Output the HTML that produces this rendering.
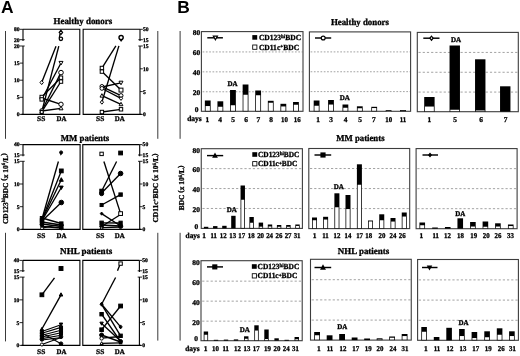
<!DOCTYPE html>
<html><head><meta charset="utf-8"><title>Figure</title>
<style>
html,body{margin:0;padding:0;background:#fff;}
body{width:520px;height:356px;overflow:hidden;font-family:"Liberation Serif",serif;}
svg{display:block;filter:grayscale(1) blur(0.3px);}
</style></head><body>
<svg width="520" height="356" viewBox="0 0 520 356" text-rendering="geometricPrecision">
<rect x="0" y="0" width="520" height="356" fill="#fff"/>
<text x="0.9" y="13.2" font-size="17.4" text-anchor="start" font-family="Liberation Sans" font-weight="bold" fill="#000" >A</text>
<text x="177.3" y="13.1" font-size="17.4" text-anchor="start" font-family="Liberation Sans" font-weight="bold" fill="#000" >B</text>
<path d="M23.0,29.3 L79.8,29.3 L79.8,114.4 L21.5,114.4" fill="none" stroke="#000" stroke-width="1.1"/>
<line x1="23.0" y1="29.3" x2="23.0" y2="40.900000000000006" stroke="#000" stroke-width="1.1" />
<line x1="23.0" y1="46.0" x2="23.0" y2="114.4" stroke="#000" stroke-width="1.1" />
<line x1="19.6" y1="46.0" x2="24.7" y2="46.0" stroke="#000" stroke-width="0.85" />
<line x1="19.6" y1="63.1" x2="23.0" y2="63.1" stroke="#000" stroke-width="0.85" />
<line x1="19.6" y1="80.2" x2="23.0" y2="80.2" stroke="#000" stroke-width="0.85" />
<line x1="19.6" y1="97.30000000000001" x2="23.0" y2="97.30000000000001" stroke="#000" stroke-width="0.85" />
<line x1="19.6" y1="114.4" x2="23.0" y2="114.4" stroke="#000" stroke-width="0.85" />
<line x1="19.6" y1="29.3" x2="23.0" y2="29.3" stroke="#000" stroke-width="0.85" />
<line x1="19.6" y1="39.7" x2="24.7" y2="39.7" stroke="#000" stroke-width="0.85" />
<text x="19.5" y="47.9" font-size="5.6" text-anchor="end" font-family="Liberation Serif" font-weight="bold" stroke="#000" stroke-width="0.3" fill="#000" >20</text>
<text x="19.5" y="65.0" font-size="5.6" text-anchor="end" font-family="Liberation Serif" font-weight="bold" stroke="#000" stroke-width="0.3" fill="#000" >15</text>
<text x="19.5" y="82.10000000000001" font-size="5.6" text-anchor="end" font-family="Liberation Serif" font-weight="bold" stroke="#000" stroke-width="0.3" fill="#000" >10</text>
<text x="19.5" y="99.20000000000002" font-size="5.6" text-anchor="end" font-family="Liberation Serif" font-weight="bold" stroke="#000" stroke-width="0.3" fill="#000" >5</text>
<text x="19.5" y="116.30000000000001" font-size="5.6" text-anchor="end" font-family="Liberation Serif" font-weight="bold" stroke="#000" stroke-width="0.3" fill="#000" >0</text>
<text x="19.5" y="31.1" font-size="5.6" text-anchor="end" font-family="Liberation Serif" font-weight="bold" stroke="#000" stroke-width="0.3" fill="#000" >80</text>
<text x="19.5" y="41.5" font-size="5.6" text-anchor="end" font-family="Liberation Serif" font-weight="bold" stroke="#000" stroke-width="0.3" fill="#000" >20</text>
<path d="M140.0,29.3 L83.15,29.3 L83.15,114.4 L141.5,114.4" fill="none" stroke="#000" stroke-width="1.1"/>
<line x1="140.0" y1="29.3" x2="140.0" y2="40.900000000000006" stroke="#000" stroke-width="1.1" />
<line x1="140.0" y1="46.0" x2="140.0" y2="114.4" stroke="#000" stroke-width="1.1" />
<line x1="138.3" y1="46.0" x2="142.8" y2="46.0" stroke="#000" stroke-width="0.85" />
<line x1="140.0" y1="68.8" x2="142.8" y2="68.8" stroke="#000" stroke-width="0.85" />
<line x1="140.0" y1="91.6" x2="142.8" y2="91.6" stroke="#000" stroke-width="0.85" />
<line x1="140.0" y1="114.4" x2="142.8" y2="114.4" stroke="#000" stroke-width="0.85" />
<line x1="140.0" y1="29.3" x2="142.8" y2="29.3" stroke="#000" stroke-width="0.85" />
<line x1="138.3" y1="39.7" x2="142.8" y2="39.7" stroke="#000" stroke-width="0.85" />
<text x="142.9" y="47.9" font-size="5.6" text-anchor="start" font-family="Liberation Serif" font-weight="bold" stroke="#000" stroke-width="0.3" fill="#000" >15</text>
<text x="142.9" y="70.7" font-size="5.6" text-anchor="start" font-family="Liberation Serif" font-weight="bold" stroke="#000" stroke-width="0.3" fill="#000" >10</text>
<text x="142.9" y="93.5" font-size="5.6" text-anchor="start" font-family="Liberation Serif" font-weight="bold" stroke="#000" stroke-width="0.3" fill="#000" >5</text>
<text x="142.9" y="116.30000000000001" font-size="5.6" text-anchor="start" font-family="Liberation Serif" font-weight="bold" stroke="#000" stroke-width="0.3" fill="#000" >0</text>
<text x="142.9" y="31.1" font-size="5.6" text-anchor="start" font-family="Liberation Serif" font-weight="bold" stroke="#000" stroke-width="0.3" fill="#000" >50</text>
<text x="142.9" y="41.5" font-size="5.6" text-anchor="start" font-family="Liberation Serif" font-weight="bold" stroke="#000" stroke-width="0.3" fill="#000" >15</text>
<text x="41.2" y="120.9" font-size="7.3" text-anchor="middle" font-family="Liberation Serif" font-weight="bold" stroke="#000" stroke-width="0.3" fill="#000" textLength="8.2" lengthAdjust="spacingAndGlyphs" >SS</text>
<text x="61.4" y="120.9" font-size="7.3" text-anchor="middle" font-family="Liberation Serif" font-weight="bold" stroke="#000" stroke-width="0.3" fill="#000" textLength="9.9" lengthAdjust="spacingAndGlyphs" >DA</text>
<text x="100.2" y="120.9" font-size="7.3" text-anchor="middle" font-family="Liberation Serif" font-weight="bold" stroke="#000" stroke-width="0.3" fill="#000" textLength="8.2" lengthAdjust="spacingAndGlyphs" >SS</text>
<text x="119.8" y="120.9" font-size="7.3" text-anchor="middle" font-family="Liberation Serif" font-weight="bold" stroke="#000" stroke-width="0.3" fill="#000" textLength="9.9" lengthAdjust="spacingAndGlyphs" >DA</text>
<text x="82.85" y="24.3" font-size="9.0" text-anchor="middle" font-family="Liberation Serif" font-weight="bold" stroke="#000" stroke-width="0.3" fill="#000" textLength="58.7" lengthAdjust="spacingAndGlyphs" >Healthy donors</text>
<path d="M23.0,144.6 L80.1,144.6 L80.1,229.4 L21.5,229.4" fill="none" stroke="#000" stroke-width="1.1"/>
<line x1="23.0" y1="144.6" x2="23.0" y2="156.2" stroke="#000" stroke-width="1.1" />
<line x1="23.0" y1="161.29999999999998" x2="23.0" y2="229.4" stroke="#000" stroke-width="1.1" />
<line x1="19.6" y1="161.29999999999998" x2="24.7" y2="161.29999999999998" stroke="#000" stroke-width="0.85" />
<line x1="19.6" y1="184.0" x2="23.0" y2="184.0" stroke="#000" stroke-width="0.85" />
<line x1="19.6" y1="206.7" x2="23.0" y2="206.7" stroke="#000" stroke-width="0.85" />
<line x1="19.6" y1="229.4" x2="23.0" y2="229.4" stroke="#000" stroke-width="0.85" />
<line x1="19.6" y1="144.6" x2="23.0" y2="144.6" stroke="#000" stroke-width="0.85" />
<line x1="19.6" y1="155.0" x2="24.7" y2="155.0" stroke="#000" stroke-width="0.85" />
<text x="19.5" y="163.2" font-size="5.6" text-anchor="end" font-family="Liberation Serif" font-weight="bold" stroke="#000" stroke-width="0.3" fill="#000" >15</text>
<text x="19.5" y="185.9" font-size="5.6" text-anchor="end" font-family="Liberation Serif" font-weight="bold" stroke="#000" stroke-width="0.3" fill="#000" >10</text>
<text x="19.5" y="208.6" font-size="5.6" text-anchor="end" font-family="Liberation Serif" font-weight="bold" stroke="#000" stroke-width="0.3" fill="#000" >5</text>
<text x="19.5" y="231.3" font-size="5.6" text-anchor="end" font-family="Liberation Serif" font-weight="bold" stroke="#000" stroke-width="0.3" fill="#000" >0</text>
<text x="19.5" y="146.4" font-size="5.6" text-anchor="end" font-family="Liberation Serif" font-weight="bold" stroke="#000" stroke-width="0.3" fill="#000" >40</text>
<text x="19.5" y="156.8" font-size="5.6" text-anchor="end" font-family="Liberation Serif" font-weight="bold" stroke="#000" stroke-width="0.3" fill="#000" >15</text>
<path d="M139.7,144.6 L82.8,144.6 L82.8,229.4 L141.2,229.4" fill="none" stroke="#000" stroke-width="1.1"/>
<line x1="139.7" y1="144.6" x2="139.7" y2="156.2" stroke="#000" stroke-width="1.1" />
<line x1="139.7" y1="161.29999999999998" x2="139.7" y2="229.4" stroke="#000" stroke-width="1.1" />
<line x1="138.0" y1="161.29999999999998" x2="142.5" y2="161.29999999999998" stroke="#000" stroke-width="0.85" />
<line x1="139.7" y1="184.0" x2="142.5" y2="184.0" stroke="#000" stroke-width="0.85" />
<line x1="139.7" y1="206.7" x2="142.5" y2="206.7" stroke="#000" stroke-width="0.85" />
<line x1="139.7" y1="229.4" x2="142.5" y2="229.4" stroke="#000" stroke-width="0.85" />
<line x1="139.7" y1="144.6" x2="142.5" y2="144.6" stroke="#000" stroke-width="0.85" />
<line x1="138.0" y1="155.0" x2="142.5" y2="155.0" stroke="#000" stroke-width="0.85" />
<text x="142.6" y="163.2" font-size="5.6" text-anchor="start" font-family="Liberation Serif" font-weight="bold" stroke="#000" stroke-width="0.3" fill="#000" >15</text>
<text x="142.6" y="185.9" font-size="5.6" text-anchor="start" font-family="Liberation Serif" font-weight="bold" stroke="#000" stroke-width="0.3" fill="#000" >10</text>
<text x="142.6" y="208.6" font-size="5.6" text-anchor="start" font-family="Liberation Serif" font-weight="bold" stroke="#000" stroke-width="0.3" fill="#000" >5</text>
<text x="142.6" y="231.3" font-size="5.6" text-anchor="start" font-family="Liberation Serif" font-weight="bold" stroke="#000" stroke-width="0.3" fill="#000" >0</text>
<text x="142.6" y="146.4" font-size="5.6" text-anchor="start" font-family="Liberation Serif" font-weight="bold" stroke="#000" stroke-width="0.3" fill="#000" >50</text>
<text x="142.6" y="156.8" font-size="5.6" text-anchor="start" font-family="Liberation Serif" font-weight="bold" stroke="#000" stroke-width="0.3" fill="#000" >15</text>
<text x="41.2" y="237.6" font-size="7.3" text-anchor="middle" font-family="Liberation Serif" font-weight="bold" stroke="#000" stroke-width="0.3" fill="#000" textLength="8.2" lengthAdjust="spacingAndGlyphs" >SS</text>
<text x="61.4" y="237.6" font-size="7.3" text-anchor="middle" font-family="Liberation Serif" font-weight="bold" stroke="#000" stroke-width="0.3" fill="#000" textLength="9.9" lengthAdjust="spacingAndGlyphs" >DA</text>
<text x="100.2" y="237.6" font-size="7.3" text-anchor="middle" font-family="Liberation Serif" font-weight="bold" stroke="#000" stroke-width="0.3" fill="#000" textLength="8.2" lengthAdjust="spacingAndGlyphs" >SS</text>
<text x="119.8" y="237.6" font-size="7.3" text-anchor="middle" font-family="Liberation Serif" font-weight="bold" stroke="#000" stroke-width="0.3" fill="#000" textLength="9.9" lengthAdjust="spacingAndGlyphs" >DA</text>
<text x="85.05" y="141.2" font-size="9.0" text-anchor="middle" font-family="Liberation Serif" font-weight="bold" stroke="#000" stroke-width="0.3" fill="#000" textLength="48.5" lengthAdjust="spacingAndGlyphs" >MM patients</text>
<path d="M22.9,260.4 L79.9,260.4 L79.9,345.4 L21.4,345.4" fill="none" stroke="#000" stroke-width="1.1"/>
<line x1="22.9" y1="260.4" x2="22.9" y2="271.99999999999994" stroke="#000" stroke-width="1.1" />
<line x1="22.9" y1="277.09999999999997" x2="22.9" y2="345.4" stroke="#000" stroke-width="1.1" />
<line x1="19.5" y1="277.09999999999997" x2="24.599999999999998" y2="277.09999999999997" stroke="#000" stroke-width="0.85" />
<line x1="19.5" y1="299.8666666666666" x2="22.9" y2="299.8666666666666" stroke="#000" stroke-width="0.85" />
<line x1="19.5" y1="322.6333333333333" x2="22.9" y2="322.6333333333333" stroke="#000" stroke-width="0.85" />
<line x1="19.5" y1="345.4" x2="22.9" y2="345.4" stroke="#000" stroke-width="0.85" />
<line x1="19.5" y1="260.4" x2="22.9" y2="260.4" stroke="#000" stroke-width="0.85" />
<line x1="19.5" y1="270.79999999999995" x2="24.599999999999998" y2="270.79999999999995" stroke="#000" stroke-width="0.85" />
<text x="19.4" y="278.99999999999994" font-size="5.6" text-anchor="end" font-family="Liberation Serif" font-weight="bold" stroke="#000" stroke-width="0.3" fill="#000" >15</text>
<text x="19.4" y="301.7666666666666" font-size="5.6" text-anchor="end" font-family="Liberation Serif" font-weight="bold" stroke="#000" stroke-width="0.3" fill="#000" >10</text>
<text x="19.4" y="324.5333333333333" font-size="5.6" text-anchor="end" font-family="Liberation Serif" font-weight="bold" stroke="#000" stroke-width="0.3" fill="#000" >5</text>
<text x="19.4" y="347.29999999999995" font-size="5.6" text-anchor="end" font-family="Liberation Serif" font-weight="bold" stroke="#000" stroke-width="0.3" fill="#000" >0</text>
<text x="19.4" y="262.2" font-size="5.6" text-anchor="end" font-family="Liberation Serif" font-weight="bold" stroke="#000" stroke-width="0.3" fill="#000" >40</text>
<text x="19.4" y="272.59999999999997" font-size="5.6" text-anchor="end" font-family="Liberation Serif" font-weight="bold" stroke="#000" stroke-width="0.3" fill="#000" >15</text>
<path d="M139.4,260.4 L82.8,260.4 L82.8,345.4 L140.9,345.4" fill="none" stroke="#000" stroke-width="1.1"/>
<line x1="139.4" y1="260.4" x2="139.4" y2="271.99999999999994" stroke="#000" stroke-width="1.1" />
<line x1="139.4" y1="277.09999999999997" x2="139.4" y2="345.4" stroke="#000" stroke-width="1.1" />
<line x1="137.70000000000002" y1="277.09999999999997" x2="142.20000000000002" y2="277.09999999999997" stroke="#000" stroke-width="0.85" />
<line x1="139.4" y1="299.8666666666666" x2="142.20000000000002" y2="299.8666666666666" stroke="#000" stroke-width="0.85" />
<line x1="139.4" y1="322.6333333333333" x2="142.20000000000002" y2="322.6333333333333" stroke="#000" stroke-width="0.85" />
<line x1="139.4" y1="345.4" x2="142.20000000000002" y2="345.4" stroke="#000" stroke-width="0.85" />
<line x1="139.4" y1="260.4" x2="142.20000000000002" y2="260.4" stroke="#000" stroke-width="0.85" />
<line x1="137.70000000000002" y1="270.79999999999995" x2="142.20000000000002" y2="270.79999999999995" stroke="#000" stroke-width="0.85" />
<text x="142.3" y="278.99999999999994" font-size="5.6" text-anchor="start" font-family="Liberation Serif" font-weight="bold" stroke="#000" stroke-width="0.3" fill="#000" >15</text>
<text x="142.3" y="301.7666666666666" font-size="5.6" text-anchor="start" font-family="Liberation Serif" font-weight="bold" stroke="#000" stroke-width="0.3" fill="#000" >10</text>
<text x="142.3" y="324.5333333333333" font-size="5.6" text-anchor="start" font-family="Liberation Serif" font-weight="bold" stroke="#000" stroke-width="0.3" fill="#000" >5</text>
<text x="142.3" y="347.29999999999995" font-size="5.6" text-anchor="start" font-family="Liberation Serif" font-weight="bold" stroke="#000" stroke-width="0.3" fill="#000" >0</text>
<text x="142.3" y="262.2" font-size="5.6" text-anchor="start" font-family="Liberation Serif" font-weight="bold" stroke="#000" stroke-width="0.3" fill="#000" >50</text>
<text x="142.3" y="272.59999999999997" font-size="5.6" text-anchor="start" font-family="Liberation Serif" font-weight="bold" stroke="#000" stroke-width="0.3" fill="#000" >15</text>
<text x="41.2" y="353.6" font-size="7.3" text-anchor="middle" font-family="Liberation Serif" font-weight="bold" stroke="#000" stroke-width="0.3" fill="#000" textLength="8.2" lengthAdjust="spacingAndGlyphs" >SS</text>
<text x="61.4" y="353.6" font-size="7.3" text-anchor="middle" font-family="Liberation Serif" font-weight="bold" stroke="#000" stroke-width="0.3" fill="#000" textLength="9.9" lengthAdjust="spacingAndGlyphs" >DA</text>
<text x="100.2" y="353.6" font-size="7.3" text-anchor="middle" font-family="Liberation Serif" font-weight="bold" stroke="#000" stroke-width="0.3" fill="#000" textLength="8.2" lengthAdjust="spacingAndGlyphs" >SS</text>
<text x="119.8" y="353.6" font-size="7.3" text-anchor="middle" font-family="Liberation Serif" font-weight="bold" stroke="#000" stroke-width="0.3" fill="#000" textLength="9.9" lengthAdjust="spacingAndGlyphs" >DA</text>
<text x="86.15" y="253.8" font-size="9.0" text-anchor="middle" font-family="Liberation Serif" font-weight="bold" stroke="#000" stroke-width="0.3" fill="#000" textLength="52.1" lengthAdjust="spacingAndGlyphs" >NHL patients</text>
<line x1="41.7" y1="82.5" x2="56.0" y2="46.2" stroke="#000" stroke-width="1.35" />
<line x1="41.7" y1="112" x2="58.8" y2="46.2" stroke="#000" stroke-width="1.35" />
<line x1="41.7" y1="99.5" x2="61.0" y2="63" stroke="#000" stroke-width="1.35" />
<line x1="41.7" y1="111" x2="61.0" y2="72.6" stroke="#000" stroke-width="1.35" />
<line x1="41.7" y1="97" x2="61.0" y2="77.7" stroke="#000" stroke-width="1.35" />
<line x1="41.7" y1="111.8" x2="61.0" y2="81.5" stroke="#000" stroke-width="1.35" />
<line x1="41.7" y1="98" x2="61.0" y2="104.3" stroke="#000" stroke-width="1.35" />
<line x1="41.7" y1="111" x2="61.0" y2="108.3" stroke="#000" stroke-width="1.35" />
<line x1="59.3" y1="38.0" x2="60.0" y2="34.0" stroke="#000" stroke-width="1.35" />
<path d="M40.02,82.5 L41.7,80.4 L43.38,82.5 L41.7,84.6 Z" fill="#fff" stroke="#000" stroke-width="1.0"/>
<rect x="40.0" y="95.3" width="3.4" height="3.4" fill="#fff" stroke="#000" stroke-width="1.0"/>
<rect x="40.0" y="97.7" width="3.4" height="3.4" fill="#fff" stroke="#000" stroke-width="1.0"/>
<circle cx="41.7" cy="110.4" r="1.8" fill="#fff" stroke="#000" stroke-width="1.0"/>
<path d="M39.800000000000004,113.11999999999999 L43.6,113.11999999999999 L41.7,109.69999999999999 Z" fill="#fff" stroke="#000" stroke-width="1.0"/>
<rect x="40.255" y="110.555" width="2.8899999999999997" height="2.8899999999999997" fill="#fff" stroke="#000" stroke-width="1.0"/>
<path d="M59.22,32.4 L60.9,30.299999999999997 L62.58,32.4 L60.9,34.5 Z" fill="#fff" stroke="#000" stroke-width="1.2"/>
<circle cx="60.9" cy="38.8" r="1.7" fill="#fff" stroke="#000" stroke-width="1.3"/>
<path d="M59.0,61.4 L63.0,61.4 L61.0,65.0 Z" fill="#fff" stroke="#000" stroke-width="1.0"/>
<circle cx="61.0" cy="72.6" r="2.3" fill="#fff" stroke="#000" stroke-width="1.0"/>
<rect x="59.3" y="76.0" width="3.4" height="3.4" fill="#fff" stroke="#000" stroke-width="1.0"/>
<rect x="59.3" y="79.89999999999999" width="3.4" height="3.4" fill="#fff" stroke="#000" stroke-width="1.0"/>
<circle cx="61.0" cy="104.3" r="2.2" fill="#fff" stroke="#000" stroke-width="1.0"/>
<path d="M59.0,109.8 L63.0,109.8 L61.0,106.2 Z" fill="#fff" stroke="#000" stroke-width="1.0"/>
<line x1="101.9" y1="68.2" x2="115.9" y2="45.9" stroke="#000" stroke-width="1.35" />
<line x1="101.9" y1="102" x2="118.9" y2="45.9" stroke="#000" stroke-width="1.35" />
<line x1="101.9" y1="71.5" x2="121.0" y2="90.1" stroke="#000" stroke-width="1.35" />
<line x1="101.9" y1="87" x2="121.0" y2="82.8" stroke="#000" stroke-width="1.35" />
<line x1="101.9" y1="86.6" x2="121.0" y2="95.6" stroke="#000" stroke-width="1.35" />
<line x1="101.9" y1="88.5" x2="121.0" y2="98.3" stroke="#000" stroke-width="1.35" />
<line x1="101.9" y1="95.6" x2="121.0" y2="104.4" stroke="#000" stroke-width="1.35" />
<line x1="101.9" y1="112" x2="121.0" y2="109.3" stroke="#000" stroke-width="1.35" />
<rect x="100.2" y="66.3" width="3.4" height="3.4" fill="#fff" stroke="#000" stroke-width="1.0"/>
<rect x="100.2" y="69.89999999999999" width="3.4" height="3.4" fill="#fff" stroke="#000" stroke-width="1.0"/>
<circle cx="101.9" cy="86.4" r="1.9" fill="#fff" stroke="#000" stroke-width="1.0"/>
<circle cx="101.9" cy="88.4" r="1.9" fill="#fff" stroke="#000" stroke-width="1.0"/>
<path d="M100.0,97.11999999999999 L103.80000000000001,97.11999999999999 L101.9,93.69999999999999 Z" fill="#fff" stroke="#000" stroke-width="1.0"/>
<path d="M100.30000000000001,102.2 L101.9,100.2 L103.5,102.2 L101.9,104.2 Z" fill="#fff" stroke="#000" stroke-width="1.0"/>
<rect x="100.2" y="110.3" width="3.4" height="3.4" fill="#fff" stroke="#000" stroke-width="1.0"/>
<circle cx="121.1" cy="37.6" r="2.1" fill="#fff" stroke="#000" stroke-width="1.4"/>
<path d="M119.2,39.0 L121.1,42.0 L123.0,39.0 Z" fill="#000"/>
<path d="M119.0,81.2 L123.0,81.2 L121.0,84.8 Z" fill="#fff" stroke="#000" stroke-width="1.0"/>
<rect x="119.045" y="88.145" width="3.9099999999999997" height="3.9099999999999997" fill="#fff" stroke="#000" stroke-width="1.0"/>
<circle cx="121.0" cy="95.6" r="2.0" fill="#fff" stroke="#000" stroke-width="1.0"/>
<path d="M119.4,98.4 L121.0,96.4 L122.6,98.4 L121.0,100.4 Z" fill="#fff" stroke="#000" stroke-width="1.0"/>
<path d="M119.1,105.72 L122.9,105.72 L121.0,102.3 Z" fill="#fff" stroke="#000" stroke-width="1.0"/>
<rect x="119.3" y="107.6" width="3.4" height="3.4" fill="#fff" stroke="#000" stroke-width="1.0"/>
<line x1="42.0" y1="219" x2="58.4" y2="161.5" stroke="#000" stroke-width="1.35" />
<line x1="42.0" y1="219.5" x2="61.3" y2="170.9" stroke="#000" stroke-width="1.35" />
<line x1="42.0" y1="220" x2="61.3" y2="179.7" stroke="#000" stroke-width="1.35" />
<line x1="42.0" y1="220.5" x2="61.3" y2="187.5" stroke="#000" stroke-width="1.35" />
<line x1="42.0" y1="221" x2="61.3" y2="202.5" stroke="#000" stroke-width="1.35" />
<line x1="42.0" y1="218" x2="61.3" y2="223.5" stroke="#000" stroke-width="1.35" />
<line x1="42.0" y1="222" x2="61.3" y2="225" stroke="#000" stroke-width="1.35" />
<line x1="42.0" y1="224" x2="61.3" y2="226.5" stroke="#000" stroke-width="1.35" />
<line x1="42.0" y1="226.5" x2="61.3" y2="228" stroke="#000" stroke-width="1.35" />
<line x1="42.0" y1="228" x2="61.3" y2="224.2" stroke="#000" stroke-width="1.35" />
<circle cx="61.1" cy="152.4" r="1.5" fill="#000" stroke="#000" stroke-width="1.0"/>
<path d="M59.8,153.3 L60.7,155.8 L62.2,153.5 Z" fill="#000"/>
<rect x="59.43" y="169.03" width="3.74" height="3.74" fill="#000" stroke="#000" stroke-width="1.0"/>
<path d="M59.3,181.29999999999998 L63.3,181.29999999999998 L61.3,177.7 Z" fill="#000" stroke="#000" stroke-width="1.0"/>
<path d="M59.4,186.07999999999998 L63.199999999999996,186.07999999999998 L61.3,189.5 Z" fill="#000" stroke="#000" stroke-width="1.0"/>
<circle cx="61.3" cy="202.5" r="2.3" fill="#000" stroke="#000" stroke-width="1.0"/>
<rect x="40.3" y="216.5" width="3.4" height="3.4" fill="#000" stroke="#000" stroke-width="1.0"/>
<rect x="40.3" y="218.8" width="3.4" height="3.4" fill="#000" stroke="#000" stroke-width="1.0"/>
<rect x="40.3" y="220.8" width="3.4" height="3.4" fill="#000" stroke="#000" stroke-width="1.0"/>
<circle cx="42.0" cy="224.6" r="1.9" fill="#000" stroke="#000" stroke-width="1.0"/>
<path d="M40.56,226.8 L42.0,225.0 L43.44,226.8 L42.0,228.60000000000002 Z" fill="#000" stroke="#000" stroke-width="1.0"/>
<circle cx="42.0" cy="228.3" r="1.4" fill="#fff" stroke="#000" stroke-width="1.0"/>
<rect x="59.599999999999994" y="221.9" width="3.4" height="3.4" fill="#000" stroke="#000" stroke-width="1.0"/>
<rect x="59.599999999999994" y="225.10000000000002" width="3.4" height="3.4" fill="#000" stroke="#000" stroke-width="1.0"/>
<circle cx="61.3" cy="225.2" r="1.9" fill="#000" stroke="#000" stroke-width="1.0"/>
<circle cx="61.3" cy="228.2" r="1.6" fill="#000" stroke="#000" stroke-width="1.0"/>
<line x1="103.9" y1="161.5" x2="120.6" y2="213.6" stroke="#000" stroke-width="1.35" />
<line x1="101.6" y1="191.3" x2="116.6" y2="161.5" stroke="#000" stroke-width="1.35" />
<line x1="101.6" y1="193" x2="120.6" y2="173.5" stroke="#000" stroke-width="1.35" />
<line x1="101.6" y1="205" x2="120.6" y2="194.6" stroke="#000" stroke-width="1.35" />
<line x1="101.6" y1="213.6" x2="120.6" y2="226" stroke="#000" stroke-width="1.35" />
<line x1="101.6" y1="222.8" x2="120.6" y2="223" stroke="#000" stroke-width="1.35" />
<line x1="101.6" y1="226.5" x2="120.6" y2="214.5" stroke="#000" stroke-width="1.35" />
<line x1="101.6" y1="227.6" x2="120.6" y2="227" stroke="#000" stroke-width="1.35" />
<line x1="101.6" y1="225" x2="120.6" y2="226" stroke="#000" stroke-width="1.35" />
<rect x="99.89999999999999" y="152.20000000000002" width="3.4" height="3.4" fill="#fff" stroke="#000" stroke-width="1.0"/>
<rect x="118.72999999999999" y="151.13" width="3.74" height="3.74" fill="#000" stroke="#000" stroke-width="1.0"/>
<rect x="99.815" y="189.215" width="3.57" height="3.57" fill="#000" stroke="#000" stroke-width="1.0"/>
<circle cx="101.6" cy="193.6" r="2.1" fill="#000" stroke="#000" stroke-width="1.0"/>
<rect x="100.07" y="203.47" width="3.06" height="3.06" fill="#000" stroke="#000" stroke-width="1.0"/>
<path d="M100.32,213.6 L101.6,212.0 L102.88,213.6 L101.6,215.2 Z" fill="#000" stroke="#000" stroke-width="1.0"/>
<rect x="99.89999999999999" y="221.10000000000002" width="3.4" height="3.4" fill="#000" stroke="#000" stroke-width="1.0"/>
<circle cx="101.6" cy="226.2" r="1.8" fill="#000" stroke="#000" stroke-width="1.0"/>
<path d="M100.1,229.0 L103.1,229.0 L101.6,226.3 Z" fill="#fff" stroke="#000" stroke-width="1.0"/>
<circle cx="120.6" cy="173.5" r="2.3" fill="#000" stroke="#000" stroke-width="1.0"/>
<rect x="118.89999999999999" y="192.9" width="3.4" height="3.4" fill="#000" stroke="#000" stroke-width="1.0"/>
<rect x="118.72999999999999" y="211.73" width="3.74" height="3.74" fill="#fff" stroke="#000" stroke-width="1.0"/>
<rect x="118.985" y="221.185" width="3.23" height="3.23" fill="#000" stroke="#000" stroke-width="1.0"/>
<circle cx="120.6" cy="226.2" r="2.2" fill="#000" stroke="#000" stroke-width="1.0"/>
<line x1="41.9" y1="294.8" x2="54.5" y2="277.8" stroke="#000" stroke-width="1.35" />
<line x1="41.9" y1="329" x2="61.0" y2="294.8" stroke="#000" stroke-width="1.35" />
<line x1="41.9" y1="331.5" x2="61.0" y2="324.8" stroke="#000" stroke-width="1.1" />
<line x1="41.9" y1="333.3" x2="61.0" y2="327.4" stroke="#000" stroke-width="1.1" />
<line x1="41.9" y1="335.2" x2="61.0" y2="330.2" stroke="#000" stroke-width="1.1" />
<line x1="41.9" y1="337" x2="61.0" y2="332.8" stroke="#000" stroke-width="1.1" />
<line x1="41.9" y1="338.6" x2="61.0" y2="335.2" stroke="#000" stroke-width="1.1" />
<line x1="41.9" y1="340" x2="61.0" y2="337.6" stroke="#000" stroke-width="1.1" />
<line x1="41.9" y1="344.5" x2="61.0" y2="337.4" stroke="#000" stroke-width="1.1" />
<line x1="41.9" y1="333" x2="61.0" y2="343.7" stroke="#000" stroke-width="1.1" />
<rect x="59.045" y="266.545" width="3.9099999999999997" height="3.9099999999999997" fill="#000" stroke="#000" stroke-width="1.0"/>
<rect x="40.03" y="292.93" width="3.74" height="3.74" fill="#000" stroke="#000" stroke-width="1.0"/>
<path d="M59.2,296.04 L62.8,296.04 L61.0,292.8 Z" fill="#000" stroke="#000" stroke-width="1.0"/>
<path d="M40.3,330.28 L43.5,330.28 L41.9,327.4 Z" fill="#000" stroke="#000" stroke-width="1.0"/>
<rect x="40.37" y="330.47" width="3.06" height="3.06" fill="#000" stroke="#000" stroke-width="1.0"/>
<rect x="40.37" y="333.07000000000005" width="3.06" height="3.06" fill="#000" stroke="#000" stroke-width="1.0"/>
<rect x="40.37" y="335.47" width="3.06" height="3.06" fill="#000" stroke="#000" stroke-width="1.0"/>
<circle cx="41.9" cy="339.4" r="1.8" fill="#000" stroke="#000" stroke-width="1.0"/>
<circle cx="41.9" cy="344.5" r="1.5" fill="#fff" stroke="#000" stroke-width="1.0"/>
<path d="M59.3,323.03999999999996 L62.7,323.03999999999996 L61.0,326.09999999999997 Z" fill="#000" stroke="#000" stroke-width="1.0"/>
<rect x="59.47" y="326.07000000000005" width="3.06" height="3.06" fill="#000" stroke="#000" stroke-width="1.0"/>
<rect x="59.47" y="329.07000000000005" width="3.06" height="3.06" fill="#000" stroke="#000" stroke-width="1.0"/>
<rect x="59.47" y="332.07000000000005" width="3.06" height="3.06" fill="#000" stroke="#000" stroke-width="1.0"/>
<circle cx="61.0" cy="336.8" r="1.8" fill="#000" stroke="#000" stroke-width="1.0"/>
<circle cx="61.0" cy="343.7" r="1.8" fill="#000" stroke="#000" stroke-width="1.0"/>
<line x1="101.6" y1="304.2" x2="115.6" y2="277.5" stroke="#000" stroke-width="1.35" />
<line x1="117.5" y1="270.8" x2="119.9" y2="264.8" stroke="#000" stroke-width="1.35" />
<line x1="101.6" y1="304.4" x2="120.6" y2="335.8" stroke="#000" stroke-width="1.35" />
<line x1="101.6" y1="304.2" x2="120.6" y2="326.9" stroke="#000" stroke-width="1.35" />
<line x1="101.6" y1="314.2" x2="120.6" y2="341.5" stroke="#000" stroke-width="1.35" />
<line x1="101.6" y1="329.7" x2="120.6" y2="306" stroke="#000" stroke-width="1.35" />
<line x1="101.6" y1="323.5" x2="120.6" y2="341" stroke="#000" stroke-width="1.35" />
<line x1="101.6" y1="335" x2="120.6" y2="342" stroke="#000" stroke-width="1.35" />
<line x1="101.6" y1="338.2" x2="120.6" y2="336.5" stroke="#000" stroke-width="1.35" />
<line x1="101.6" y1="343.3" x2="120.6" y2="342.8" stroke="#000" stroke-width="1.35" />
<rect x="118.89999999999999" y="261.90000000000003" width="3.4" height="3.4" fill="#fff" stroke="#000" stroke-width="1.0"/>
<path d="M100.0,304.2 L101.6,302.2 L103.19999999999999,304.2 L101.6,306.2 Z" fill="#000" stroke="#000" stroke-width="1.0"/>
<rect x="99.89999999999999" y="312.5" width="3.4" height="3.4" fill="#000" stroke="#000" stroke-width="1.0"/>
<path d="M99.89999999999999,322.14 L103.3,322.14 L101.6,325.2 Z" fill="#000" stroke="#000" stroke-width="1.0"/>
<rect x="99.815" y="327.91499999999996" width="3.57" height="3.57" fill="#000" stroke="#000" stroke-width="1.0"/>
<circle cx="101.6" cy="335" r="2.0" fill="#000" stroke="#000" stroke-width="1.0"/>
<circle cx="101.6" cy="338.4" r="1.7" fill="#fff" stroke="#000" stroke-width="1.0"/>
<path d="M100.0,344.58 L103.19999999999999,344.58 L101.6,341.7 Z" fill="#fff" stroke="#000" stroke-width="1.0"/>
<rect x="118.72999999999999" y="304.13" width="3.74" height="3.74" fill="#000" stroke="#000" stroke-width="1.0"/>
<path d="M119.0,326.9 L120.6,324.9 L122.19999999999999,326.9 L120.6,328.9 Z" fill="#000" stroke="#000" stroke-width="1.0"/>
<rect x="118.89999999999999" y="334.1" width="3.4" height="3.4" fill="#000" stroke="#000" stroke-width="1.0"/>
<circle cx="120.6" cy="341.4" r="1.9" fill="#000" stroke="#000" stroke-width="1.0"/>
<rect x="119.32499999999999" y="341.32500000000005" width="2.55" height="2.55" fill="#000" stroke="#000" stroke-width="1.0"/>
<line x1="5.5" y1="31" x2="5.5" y2="138.8" stroke="#3a3a3a" stroke-width="1" />
<line x1="5.5" y1="232.8" x2="5.5" y2="341.4" stroke="#3a3a3a" stroke-width="1" />
<line x1="157.8" y1="31" x2="157.8" y2="138.8" stroke="#3a3a3a" stroke-width="1" />
<line x1="157.8" y1="232.8" x2="157.8" y2="340.6" stroke="#3a3a3a" stroke-width="1" />
<line x1="180.1" y1="31" x2="180.1" y2="138.8" stroke="#3a3a3a" stroke-width="1" />
<line x1="180.1" y1="232.8" x2="180.1" y2="340.6" stroke="#3a3a3a" stroke-width="1" />
<text transform="translate(7.6,188.7) rotate(-90)" font-size="7.5" text-anchor="middle" font-family="Liberation Serif" font-weight="bold" stroke="#000" stroke-width="0.3" textLength="70.6" lengthAdjust="spacingAndGlyphs"><tspan>CD123</tspan><tspan font-size="4.95" dy="-2.4">hi</tspan><tspan dy="2.4" font-size="0.1"> </tspan><tspan>BDC </tspan><tspan dy="-1.5">(</tspan><tspan dy="1.5" font-size="0.1"> </tspan><tspan>x 10</tspan><tspan font-size="4.95" dy="-2.4">6</tspan><tspan dy="2.4" font-size="0.1"> </tspan><tspan>/L</tspan><tspan dy="-1.5">)</tspan></text>
<text transform="translate(158.0,188.0) rotate(-90)" font-size="7.5" text-anchor="middle" font-family="Liberation Serif" font-weight="bold" stroke="#000" stroke-width="0.3" textLength="69" lengthAdjust="spacingAndGlyphs"><tspan>CD11c</tspan><tspan font-size="4.95" dy="-2.4">+</tspan><tspan dy="2.4" font-size="0.1"> </tspan><tspan>BDC </tspan><tspan dy="-1.5">(</tspan><tspan dy="1.5" font-size="0.1"> </tspan><tspan>x 10</tspan><tspan font-size="4.95" dy="-2.4">6</tspan><tspan dy="2.4" font-size="0.1"> </tspan><tspan>/L</tspan><tspan dy="-1.5">)</tspan></text>
<text transform="translate(184.4,187.9) rotate(-90)" font-size="7.5" text-anchor="middle" font-family="Liberation Serif" font-weight="bold" stroke="#000" stroke-width="0.3" textLength="44.8" lengthAdjust="spacingAndGlyphs"><tspan>BDC </tspan><tspan dy="-1.5">(</tspan><tspan dy="1.5" font-size="0.1"> </tspan><tspan>x 10</tspan><tspan font-size="4.95" dy="-2.4">6</tspan><tspan dy="2.4" font-size="0.1"> </tspan><tspan>/L</tspan><tspan dy="-1.5">)</tspan></text>
<line x1="202.6" y1="51.925" x2="302.5" y2="51.925" stroke="#9e9e9e" stroke-width="0.95" stroke-dasharray="1.7 1.6"/>
<line x1="202.6" y1="71.85" x2="302.5" y2="71.85" stroke="#9e9e9e" stroke-width="0.95" stroke-dasharray="1.7 1.6"/>
<line x1="202.6" y1="91.775" x2="302.5" y2="91.775" stroke="#9e9e9e" stroke-width="0.95" stroke-dasharray="1.7 1.6"/>
<rect x="201.4" y="31.6" width="101.6" height="79.69999999999999" fill="none" stroke="#3c3c3c" stroke-width="1.1"/>
<text transform="translate(200.20000000000002,35.4) scale(1.04,1)" font-size="7.2" text-anchor="end" font-family="Liberation Serif" font-weight="bold" stroke="#000" stroke-width="0.3" fill="#000" >80</text>
<text transform="translate(200.20000000000002,55.324999999999996) scale(1.04,1)" font-size="7.2" text-anchor="end" font-family="Liberation Serif" font-weight="bold" stroke="#000" stroke-width="0.3" fill="#000" >60</text>
<text transform="translate(200.20000000000002,75.24999999999999) scale(1.04,1)" font-size="7.2" text-anchor="end" font-family="Liberation Serif" font-weight="bold" stroke="#000" stroke-width="0.3" fill="#000" >40</text>
<text transform="translate(200.20000000000002,95.175) scale(1.04,1)" font-size="7.2" text-anchor="end" font-family="Liberation Serif" font-weight="bold" stroke="#000" stroke-width="0.3" fill="#000" >20</text>
<text transform="translate(198.5,111.79999999999998) scale(1.04,1)" font-size="7.2" text-anchor="end" font-family="Liberation Serif" font-weight="bold" stroke="#000" stroke-width="0.3" fill="#000" >0</text>
<line x1="310.59999999999997" y1="51.9" x2="410.1" y2="51.9" stroke="#9e9e9e" stroke-width="0.95" stroke-dasharray="1.7 1.6"/>
<line x1="310.59999999999997" y1="71.75" x2="410.1" y2="71.75" stroke="#9e9e9e" stroke-width="0.95" stroke-dasharray="1.7 1.6"/>
<line x1="310.59999999999997" y1="91.60000000000001" x2="410.1" y2="91.60000000000001" stroke="#9e9e9e" stroke-width="0.95" stroke-dasharray="1.7 1.6"/>
<rect x="309.4" y="31.9" width="101.20000000000005" height="79.4" fill="none" stroke="#3c3c3c" stroke-width="1.1"/>
<line x1="418.5" y1="52.425000000000004" x2="517.8" y2="52.425000000000004" stroke="#9e9e9e" stroke-width="0.95" stroke-dasharray="2.2 2.0"/>
<line x1="418.5" y1="72.25000000000001" x2="517.8" y2="72.25000000000001" stroke="#9e9e9e" stroke-width="0.95" stroke-dasharray="2.2 2.0"/>
<line x1="418.5" y1="92.075" x2="517.8" y2="92.075" stroke="#9e9e9e" stroke-width="0.95" stroke-dasharray="2.2 2.0"/>
<rect x="417.3" y="32.4" width="100.99999999999994" height="79.30000000000001" fill="none" stroke="#3c3c3c" stroke-width="1.1"/>
<rect x="252.3" y="35.1" width="4.9" height="4.6" fill="#000"/>
<rect x="252.7" y="45.0" width="4.2" height="4.3" fill="#fff" stroke="#000" stroke-width="0.85"/>
<text transform="translate(258.9,40.2) scale(0.965,1)" font-size="7.8" font-family="Liberation Serif" font-weight="bold" stroke="#000" stroke-width="0.3">CD123<tspan font-size="5.2" dy="-1.9">hi</tspan><tspan dy="1.9">BDC</tspan></text>
<text transform="translate(258.9,49.6) scale(0.965,1)" font-size="7.8" font-family="Liberation Serif" font-weight="bold" stroke="#000" stroke-width="0.3">CD11c<tspan font-size="5.4" dy="-1.7">+</tspan><tspan dy="1.7">BDC</tspan></text>
<line x1="202.45" y1="168.625" x2="301.9" y2="168.625" stroke="#9e9e9e" stroke-width="0.95" stroke-dasharray="2.2 2.0"/>
<line x1="202.45" y1="188.55" x2="301.9" y2="188.55" stroke="#9e9e9e" stroke-width="0.95" stroke-dasharray="2.2 2.0"/>
<line x1="202.45" y1="208.475" x2="301.9" y2="208.475" stroke="#9e9e9e" stroke-width="0.95" stroke-dasharray="2.2 2.0"/>
<rect x="201.25" y="148.7" width="101.14999999999998" height="79.70000000000002" fill="none" stroke="#3c3c3c" stroke-width="1.1"/>
<text transform="translate(200.05,152.5) scale(1.04,1)" font-size="7.2" text-anchor="end" font-family="Liberation Serif" font-weight="bold" stroke="#000" stroke-width="0.3" fill="#000" >80</text>
<text transform="translate(200.05,172.425) scale(1.04,1)" font-size="7.2" text-anchor="end" font-family="Liberation Serif" font-weight="bold" stroke="#000" stroke-width="0.3" fill="#000" >60</text>
<text transform="translate(200.05,192.35000000000002) scale(1.04,1)" font-size="7.2" text-anchor="end" font-family="Liberation Serif" font-weight="bold" stroke="#000" stroke-width="0.3" fill="#000" >40</text>
<text transform="translate(200.05,212.275) scale(1.04,1)" font-size="7.2" text-anchor="end" font-family="Liberation Serif" font-weight="bold" stroke="#000" stroke-width="0.3" fill="#000" >20</text>
<text transform="translate(198.35,228.9) scale(1.04,1)" font-size="7.2" text-anchor="end" font-family="Liberation Serif" font-weight="bold" stroke="#000" stroke-width="0.3" fill="#000" >0</text>
<line x1="310.0" y1="168.525" x2="409.2" y2="168.525" stroke="#9e9e9e" stroke-width="0.95" stroke-dasharray="2.2 2.0"/>
<line x1="310.0" y1="188.55" x2="409.2" y2="188.55" stroke="#9e9e9e" stroke-width="0.95" stroke-dasharray="2.2 2.0"/>
<line x1="310.0" y1="208.575" x2="409.2" y2="208.575" stroke="#9e9e9e" stroke-width="0.95" stroke-dasharray="2.2 2.0"/>
<rect x="308.8" y="148.5" width="100.89999999999998" height="80.1" fill="none" stroke="#3c3c3c" stroke-width="1.1"/>
<line x1="417.3" y1="168.625" x2="516.6" y2="168.625" stroke="#9e9e9e" stroke-width="0.95" stroke-dasharray="2.2 2.0"/>
<line x1="417.3" y1="188.64999999999998" x2="516.6" y2="188.64999999999998" stroke="#9e9e9e" stroke-width="0.95" stroke-dasharray="2.2 2.0"/>
<line x1="417.3" y1="208.67499999999998" x2="516.6" y2="208.67499999999998" stroke="#9e9e9e" stroke-width="0.95" stroke-dasharray="2.2 2.0"/>
<rect x="416.1" y="148.6" width="101.0" height="80.1" fill="none" stroke="#3c3c3c" stroke-width="1.1"/>
<rect x="252.3" y="152.2" width="4.9" height="4.6" fill="#000"/>
<rect x="252.7" y="161.6" width="4.2" height="4.3" fill="#fff" stroke="#000" stroke-width="0.85"/>
<text transform="translate(258.0,157.3) scale(0.945,1)" font-size="7.8" font-family="Liberation Serif" font-weight="bold" stroke="#000" stroke-width="0.3">CD123<tspan font-size="5.2" dy="-1.9">hi</tspan><tspan dy="1.9">BDC</tspan></text>
<text transform="translate(258.0,166.2) scale(0.945,1)" font-size="7.8" font-family="Liberation Serif" font-weight="bold" stroke="#000" stroke-width="0.3">CD11c<tspan font-size="5.4" dy="-1.7">+</tspan><tspan dy="1.7">BDC</tspan></text>
<line x1="202.2" y1="281.15" x2="301.7" y2="281.15" stroke="#9e9e9e" stroke-width="0.95" stroke-dasharray="2.2 2.0"/>
<line x1="202.2" y1="301.15" x2="301.7" y2="301.15" stroke="#9e9e9e" stroke-width="0.95" stroke-dasharray="2.2 2.0"/>
<line x1="202.2" y1="321.15" x2="301.7" y2="321.15" stroke="#9e9e9e" stroke-width="0.95" stroke-dasharray="2.2 2.0"/>
<rect x="201.0" y="260.7" width="101.19999999999999" height="80.0" fill="none" stroke="#3c3c3c" stroke-width="1.1"/>
<text transform="translate(199.8,264.5) scale(1.04,1)" font-size="7.2" text-anchor="end" font-family="Liberation Serif" font-weight="bold" stroke="#000" stroke-width="0.3" fill="#000" >80</text>
<text transform="translate(199.8,284.5) scale(1.04,1)" font-size="7.2" text-anchor="end" font-family="Liberation Serif" font-weight="bold" stroke="#000" stroke-width="0.3" fill="#000" >60</text>
<text transform="translate(199.8,304.5) scale(1.04,1)" font-size="7.2" text-anchor="end" font-family="Liberation Serif" font-weight="bold" stroke="#000" stroke-width="0.3" fill="#000" >40</text>
<text transform="translate(199.8,324.5) scale(1.04,1)" font-size="7.2" text-anchor="end" font-family="Liberation Serif" font-weight="bold" stroke="#000" stroke-width="0.3" fill="#000" >20</text>
<text transform="translate(198.1,341.2) scale(1.04,1)" font-size="7.2" text-anchor="end" font-family="Liberation Serif" font-weight="bold" stroke="#000" stroke-width="0.3" fill="#000" >0</text>
<line x1="311.7" y1="279.7" x2="410.75" y2="279.7" stroke="#9e9e9e" stroke-width="0.95" stroke-dasharray="2.2 2.0"/>
<line x1="311.7" y1="299.90000000000003" x2="410.75" y2="299.90000000000003" stroke="#9e9e9e" stroke-width="0.95" stroke-dasharray="2.2 2.0"/>
<line x1="311.7" y1="320.1" x2="410.75" y2="320.1" stroke="#9e9e9e" stroke-width="0.95" stroke-dasharray="2.2 2.0"/>
<rect x="310.5" y="259.3" width="100.75" height="80.80000000000001" fill="none" stroke="#3c3c3c" stroke-width="1.1"/>
<line x1="418.8" y1="279.9" x2="517.9" y2="279.9" stroke="#9e9e9e" stroke-width="0.95" stroke-dasharray="2.2 2.0"/>
<line x1="418.8" y1="300.09999999999997" x2="517.9" y2="300.09999999999997" stroke="#9e9e9e" stroke-width="0.95" stroke-dasharray="2.2 2.0"/>
<line x1="418.8" y1="320.3" x2="517.9" y2="320.3" stroke="#9e9e9e" stroke-width="0.95" stroke-dasharray="2.2 2.0"/>
<rect x="417.6" y="259.5" width="100.79999999999995" height="80.80000000000001" fill="none" stroke="#3c3c3c" stroke-width="1.1"/>
<rect x="251.85000000000002" y="264.2" width="4.9" height="4.6" fill="#000"/>
<rect x="252.25" y="273.70000000000005" width="4.2" height="4.3" fill="#fff" stroke="#000" stroke-width="0.85"/>
<text transform="translate(257.59999999999997,269.3) scale(0.953,1)" font-size="7.8" font-family="Liberation Serif" font-weight="bold" stroke="#000" stroke-width="0.3">CD123<tspan font-size="5.2" dy="-1.9">hi</tspan><tspan dy="1.9">BDC</tspan></text>
<text transform="translate(257.59999999999997,278.3) scale(0.953,1)" font-size="7.8" font-family="Liberation Serif" font-weight="bold" stroke="#000" stroke-width="0.3">CD11c<tspan font-size="5.4" dy="-1.7">+</tspan><tspan dy="1.7">BDC</tspan></text>
<text x="359.9" y="24.8" font-size="9.0" text-anchor="middle" font-family="Liberation Serif" font-weight="bold" stroke="#000" stroke-width="0.3" fill="#000" textLength="58" lengthAdjust="spacingAndGlyphs" >Healthy donors</text>
<text x="360.4" y="141.2" font-size="9.0" text-anchor="middle" font-family="Liberation Serif" font-weight="bold" stroke="#000" stroke-width="0.3" fill="#000" textLength="48.3" lengthAdjust="spacingAndGlyphs" >MM patients</text>
<text x="363.5" y="254.1" font-size="9.0" text-anchor="middle" font-family="Liberation Serif" font-weight="bold" stroke="#000" stroke-width="0.3" fill="#000" textLength="51.5" lengthAdjust="spacingAndGlyphs" >NHL patients</text>
<rect x="204.85" y="100.5" width="5.8" height="10.799999999999997" fill="#000"/>
<rect x="205.6" y="106.05" width="4.3" height="4.75" fill="#fff"/>
<rect x="217.45" y="101.3" width="5.8" height="10.0" fill="#000"/>
<rect x="218.2" y="106.75" width="4.3" height="4.049999999999997" fill="#fff"/>
<rect x="230.04999999999998" y="90" width="5.8" height="21.299999999999997" fill="#000"/>
<rect x="230.79999999999998" y="105.25" width="4.3" height="5.549999999999997" fill="#fff"/>
<rect x="242.65" y="84.5" width="5.8" height="26.799999999999997" fill="#000"/>
<rect x="243.4" y="94.75" width="4.3" height="16.049999999999997" fill="#fff"/>
<rect x="255.24999999999997" y="90.5" width="5.8" height="20.799999999999997" fill="#000"/>
<rect x="255.99999999999997" y="95.25" width="4.3" height="15.549999999999997" fill="#fff"/>
<rect x="267.85" y="100.8" width="5.8" height="10.5" fill="#000"/>
<rect x="268.6" y="102.75" width="4.3" height="8.049999999999997" fill="#fff"/>
<rect x="280.45000000000005" y="103.8" width="5.8" height="7.5" fill="#000"/>
<rect x="281.20000000000005" y="106.45" width="4.3" height="4.349999999999994" fill="#fff"/>
<rect x="293.05" y="102" width="5.8" height="9.299999999999997" fill="#000"/>
<rect x="293.8" y="104.75" width="4.3" height="6.049999999999997" fill="#fff"/>
<line x1="207.3" y1="37.8" x2="222.9" y2="37.8" stroke="#000" stroke-width="1.45" />
<path d="M213.376,36.1808 L217.424,36.1808 L215.4,39.824 Z" fill="#fff" stroke="#000" stroke-width="1.2"/>
<text x="232.5" y="86.3" font-size="7.2" text-anchor="middle" font-family="Liberation Serif" font-weight="bold" stroke="#000" stroke-width="0.3" fill="#000" textLength="10.2" lengthAdjust="spacingAndGlyphs" >DA</text>
<text x="194.5" y="121.4" font-size="7.5" text-anchor="middle" font-family="Liberation Serif" font-weight="bold" stroke="#000" stroke-width="0.3" fill="#000" textLength="14.6" lengthAdjust="spacingAndGlyphs" >days</text>
<text x="207.4" y="121.9" font-size="7.4" text-anchor="middle" font-family="Liberation Serif" font-weight="bold" stroke="#000" stroke-width="0.3" fill="#000" >1</text>
<text x="220" y="121.9" font-size="7.4" text-anchor="middle" font-family="Liberation Serif" font-weight="bold" stroke="#000" stroke-width="0.3" fill="#000" >4</text>
<text x="233" y="121.9" font-size="7.4" text-anchor="middle" font-family="Liberation Serif" font-weight="bold" stroke="#000" stroke-width="0.3" fill="#000" >5</text>
<text x="246.2" y="121.9" font-size="7.4" text-anchor="middle" font-family="Liberation Serif" font-weight="bold" stroke="#000" stroke-width="0.3" fill="#000" >6</text>
<text x="258.3" y="121.9" font-size="7.4" text-anchor="middle" font-family="Liberation Serif" font-weight="bold" stroke="#000" stroke-width="0.3" fill="#000" >7</text>
<text x="271.1" y="121.9" font-size="7.4" text-anchor="middle" font-family="Liberation Serif" font-weight="bold" stroke="#000" stroke-width="0.3" fill="#000" >8</text>
<text transform="translate(284.5,121.9) scale(0.93,1)" font-size="7.4" text-anchor="middle" font-family="Liberation Serif" font-weight="bold" stroke="#000" stroke-width="0.3" fill="#000" >10</text>
<text transform="translate(297.2,121.9) scale(0.93,1)" font-size="7.4" text-anchor="middle" font-family="Liberation Serif" font-weight="bold" stroke="#000" stroke-width="0.3" fill="#000" >16</text>
<rect x="313.70000000000005" y="100.5" width="5.8" height="10.799999999999997" fill="#000"/>
<rect x="314.45000000000005" y="105.75" width="4.3" height="5.049999999999997" fill="#fff"/>
<rect x="328.1" y="100" width="5.8" height="11.299999999999997" fill="#000"/>
<rect x="328.85" y="104.55" width="4.3" height="6.25" fill="#fff"/>
<rect x="342.50000000000006" y="104.5" width="5.8" height="6.799999999999997" fill="#000"/>
<rect x="343.25000000000006" y="107.75" width="4.3" height="3.049999999999997" fill="#fff"/>
<rect x="356.90000000000003" y="106.3" width="5.8" height="5.0" fill="#000"/>
<rect x="357.65000000000003" y="108.25" width="4.3" height="2.549999999999997" fill="#fff"/>
<rect x="371.30000000000007" y="106.8" width="5.8" height="4.5" fill="#000"/>
<rect x="372.05000000000007" y="108.05" width="4.3" height="2.75" fill="#fff"/>
<rect x="385.70000000000005" y="110.2" width="5.8" height="1.0999999999999943" fill="#000"/>
<rect x="386.45000000000005" y="111.05" width="4.3" height="0.2" fill="#fff"/>
<rect x="400.1" y="110" width="5.8" height="1.2999999999999972" fill="#000"/>
<rect x="400.85" y="110.85" width="4.3" height="0.2" fill="#fff"/>
<line x1="315" y1="38" x2="331.2" y2="38" stroke="#000" stroke-width="1.45" />
<circle cx="323.2" cy="38" r="1.9360000000000002" fill="#fff" stroke="#000" stroke-width="1.2"/>
<text x="344.8" y="99.5" font-size="7.2" text-anchor="middle" font-family="Liberation Serif" font-weight="bold" stroke="#000" stroke-width="0.3" fill="#000" textLength="10.2" lengthAdjust="spacingAndGlyphs" >DA</text>
<text x="318" y="121.7" font-size="7.4" text-anchor="middle" font-family="Liberation Serif" font-weight="bold" stroke="#000" stroke-width="0.3" fill="#000" >1</text>
<text x="331.2" y="121.7" font-size="7.4" text-anchor="middle" font-family="Liberation Serif" font-weight="bold" stroke="#000" stroke-width="0.3" fill="#000" >3</text>
<text x="345.5" y="121.7" font-size="7.4" text-anchor="middle" font-family="Liberation Serif" font-weight="bold" stroke="#000" stroke-width="0.3" fill="#000" >4</text>
<text x="360" y="121.7" font-size="7.4" text-anchor="middle" font-family="Liberation Serif" font-weight="bold" stroke="#000" stroke-width="0.3" fill="#000" >5</text>
<text x="373.8" y="121.7" font-size="7.4" text-anchor="middle" font-family="Liberation Serif" font-weight="bold" stroke="#000" stroke-width="0.3" fill="#000" >7</text>
<text transform="translate(388.8,121.7) scale(0.93,1)" font-size="7.4" text-anchor="middle" font-family="Liberation Serif" font-weight="bold" stroke="#000" stroke-width="0.3" fill="#000" >10</text>
<text transform="translate(403,121.7) scale(0.93,1)" font-size="7.4" text-anchor="middle" font-family="Liberation Serif" font-weight="bold" stroke="#000" stroke-width="0.3" fill="#000" >11</text>
<rect x="424.2" y="97" width="10.4" height="14.700000000000003" fill="#000"/>
<rect x="424.95" y="106.55" width="8.9" height="4.650000000000006" fill="#fff"/>
<rect x="449.55" y="45.5" width="10.4" height="66.2" fill="#000"/>
<rect x="450.3" y="109.75" width="8.9" height="1.4500000000000028" fill="#fff"/>
<rect x="475.05" y="59.3" width="10.4" height="52.400000000000006" fill="#000"/>
<rect x="475.8" y="110.45" width="8.9" height="0.75" fill="#fff"/>
<rect x="500.05" y="86.3" width="10.4" height="25.400000000000006" fill="#000"/>
<line x1="423.3" y1="38.2" x2="439.5" y2="38.2" stroke="#000" stroke-width="1.45" />
<path d="M429.8808,38.2 L431.5,36.176 L433.1192,38.2 L431.5,40.224000000000004 Z" fill="#fff" stroke="#000" stroke-width="1.2"/>
<text x="456" y="41.8" font-size="7.2" text-anchor="middle" font-family="Liberation Serif" font-weight="bold" stroke="#000" stroke-width="0.3" fill="#000" textLength="10.2" lengthAdjust="spacingAndGlyphs" >DA</text>
<text x="429.3" y="121.7" font-size="7.4" text-anchor="middle" font-family="Liberation Serif" font-weight="bold" stroke="#000" stroke-width="0.3" fill="#000" >1</text>
<text x="455" y="121.7" font-size="7.4" text-anchor="middle" font-family="Liberation Serif" font-weight="bold" stroke="#000" stroke-width="0.3" fill="#000" >5</text>
<text x="481.2" y="121.7" font-size="7.4" text-anchor="middle" font-family="Liberation Serif" font-weight="bold" stroke="#000" stroke-width="0.3" fill="#000" >6</text>
<text x="505.5" y="121.7" font-size="7.4" text-anchor="middle" font-family="Liberation Serif" font-weight="bold" stroke="#000" stroke-width="0.3" fill="#000" >7</text>
<rect x="203.9" y="226.8" width="4.4" height="1.5999999999999943" fill="#000"/>
<rect x="213.05" y="226.1" width="4.4" height="2.3000000000000114" fill="#000"/>
<rect x="222.20000000000002" y="225.8" width="4.4" height="2.5999999999999943" fill="#000"/>
<rect x="231.20000000000002" y="215.8" width="4.4" height="12.599999999999994" fill="#000"/>
<rect x="240.55" y="185.5" width="4.4" height="42.900000000000006" fill="#000"/>
<rect x="241.3" y="199.75" width="2.9000000000000004" height="28.150000000000006" fill="#fff"/>
<rect x="249.4" y="217" width="4.4" height="11.400000000000006" fill="#000"/>
<rect x="250.15" y="222.75" width="2.9000000000000004" height="5.150000000000006" fill="#fff"/>
<rect x="258.7" y="222.6" width="4.4" height="5.800000000000011" fill="#000"/>
<rect x="259.45" y="226.65" width="2.9000000000000004" height="1.25" fill="#fff"/>
<rect x="267.8" y="224.5" width="4.4" height="3.9000000000000057" fill="#000"/>
<rect x="268.55" y="226.45" width="2.9000000000000004" height="1.450000000000017" fill="#fff"/>
<rect x="276.90000000000003" y="225" width="4.4" height="3.4000000000000057" fill="#000"/>
<rect x="277.65000000000003" y="226.75" width="2.9000000000000004" height="1.1500000000000057" fill="#fff"/>
<rect x="286.2" y="225" width="4.4" height="3.4000000000000057" fill="#000"/>
<rect x="286.95" y="226.75" width="2.9000000000000004" height="1.1500000000000057" fill="#fff"/>
<rect x="295.3" y="224.5" width="4.4" height="3.9000000000000057" fill="#000"/>
<rect x="296.05" y="225.95" width="2.9000000000000004" height="1.950000000000017" fill="#fff"/>
<line x1="207" y1="155.6" x2="223.2" y2="155.6" stroke="#000" stroke-width="1.45" />
<path d="M213.152,157.0784 L216.848,157.0784 L215,153.75199999999998 Z" fill="#000" stroke="#000" stroke-width="1.2"/>
<text x="231.8" y="211.8" font-size="7.2" text-anchor="middle" font-family="Liberation Serif" font-weight="bold" stroke="#000" stroke-width="0.3" fill="#000" textLength="10.2" lengthAdjust="spacingAndGlyphs" >DA</text>
<text x="192.7" y="237.7" font-size="7.5" text-anchor="middle" font-family="Liberation Serif" font-weight="bold" stroke="#000" stroke-width="0.3" fill="#000" textLength="14.3" lengthAdjust="spacingAndGlyphs" >days</text>
<text x="204.2" y="237.9" font-size="7.4" text-anchor="middle" font-family="Liberation Serif" font-weight="bold" stroke="#000" stroke-width="0.3" fill="#000" >1</text>
<text transform="translate(213.8,237.9) scale(0.93,1)" font-size="7.4" text-anchor="middle" font-family="Liberation Serif" font-weight="bold" stroke="#000" stroke-width="0.3" fill="#000" >11</text>
<text transform="translate(223.2,237.9) scale(0.93,1)" font-size="7.4" text-anchor="middle" font-family="Liberation Serif" font-weight="bold" stroke="#000" stroke-width="0.3" fill="#000" >12</text>
<text transform="translate(232.7,237.9) scale(0.93,1)" font-size="7.4" text-anchor="middle" font-family="Liberation Serif" font-weight="bold" stroke="#000" stroke-width="0.3" fill="#000" >13</text>
<text transform="translate(241.8,237.9) scale(0.93,1)" font-size="7.4" text-anchor="middle" font-family="Liberation Serif" font-weight="bold" stroke="#000" stroke-width="0.3" fill="#000" >17</text>
<text transform="translate(251.3,237.9) scale(0.93,1)" font-size="7.4" text-anchor="middle" font-family="Liberation Serif" font-weight="bold" stroke="#000" stroke-width="0.3" fill="#000" >18</text>
<text transform="translate(260.6,237.9) scale(0.93,1)" font-size="7.4" text-anchor="middle" font-family="Liberation Serif" font-weight="bold" stroke="#000" stroke-width="0.3" fill="#000" >20</text>
<text transform="translate(269.6,237.9) scale(0.93,1)" font-size="7.4" text-anchor="middle" font-family="Liberation Serif" font-weight="bold" stroke="#000" stroke-width="0.3" fill="#000" >24</text>
<text transform="translate(278.9,237.9) scale(0.93,1)" font-size="7.4" text-anchor="middle" font-family="Liberation Serif" font-weight="bold" stroke="#000" stroke-width="0.3" fill="#000" >26</text>
<text transform="translate(288.1,237.9) scale(0.93,1)" font-size="7.4" text-anchor="middle" font-family="Liberation Serif" font-weight="bold" stroke="#000" stroke-width="0.3" fill="#000" >27</text>
<text transform="translate(297.1,237.9) scale(0.93,1)" font-size="7.4" text-anchor="middle" font-family="Liberation Serif" font-weight="bold" stroke="#000" stroke-width="0.3" fill="#000" >31</text>
<rect x="312.0" y="217.5" width="5.0" height="11.099999999999994" fill="#000"/>
<rect x="312.75" y="220.25" width="3.5" height="7.849999999999994" fill="#fff"/>
<rect x="323.1" y="216.8" width="5.0" height="11.799999999999983" fill="#000"/>
<rect x="323.85" y="219.55" width="3.5" height="8.549999999999983" fill="#fff"/>
<rect x="334.4" y="193.3" width="5.0" height="35.29999999999998" fill="#000"/>
<rect x="335.15" y="207.25" width="3.5" height="20.849999999999994" fill="#fff"/>
<rect x="345.5" y="195" width="5.0" height="33.599999999999994" fill="#000"/>
<rect x="346.25" y="209.05" width="3.5" height="19.049999999999983" fill="#fff"/>
<rect x="356.9" y="164.3" width="5.0" height="64.29999999999998" fill="#000"/>
<rect x="357.65" y="184.75" width="3.5" height="43.349999999999994" fill="#fff"/>
<rect x="368.0" y="220.5" width="5.0" height="8.099999999999994" fill="#000"/>
<rect x="368.75" y="221.45" width="3.5" height="6.650000000000006" fill="#fff"/>
<rect x="379.25" y="214.3" width="5.0" height="14.299999999999983" fill="#000"/>
<rect x="380.0" y="220.25" width="3.5" height="7.849999999999994" fill="#fff"/>
<rect x="390.5" y="218" width="5.0" height="10.599999999999994" fill="#000"/>
<rect x="391.25" y="221.55" width="3.5" height="6.549999999999983" fill="#fff"/>
<rect x="401.75" y="212.5" width="5.0" height="16.099999999999994" fill="#000"/>
<rect x="402.5" y="216.55" width="3.5" height="11.549999999999983" fill="#fff"/>
<line x1="314.5" y1="155" x2="331.2" y2="155" stroke="#000" stroke-width="1.45" />
<rect x="321.0178" y="153.0178" width="3.9643999999999995" height="3.9643999999999995" fill="#000" stroke="#000" stroke-width="1.2"/>
<text x="338.8" y="189.4" font-size="7.2" text-anchor="middle" font-family="Liberation Serif" font-weight="bold" stroke="#000" stroke-width="0.3" fill="#000" textLength="10.2" lengthAdjust="spacingAndGlyphs" >DA</text>
<text x="314.5" y="237.9" font-size="7.4" text-anchor="middle" font-family="Liberation Serif" font-weight="bold" stroke="#000" stroke-width="0.3" fill="#000" >1</text>
<text transform="translate(325.5,237.9) scale(0.93,1)" font-size="7.4" text-anchor="middle" font-family="Liberation Serif" font-weight="bold" stroke="#000" stroke-width="0.3" fill="#000" >11</text>
<text transform="translate(337,237.9) scale(0.93,1)" font-size="7.4" text-anchor="middle" font-family="Liberation Serif" font-weight="bold" stroke="#000" stroke-width="0.3" fill="#000" >12</text>
<text transform="translate(348,237.9) scale(0.93,1)" font-size="7.4" text-anchor="middle" font-family="Liberation Serif" font-weight="bold" stroke="#000" stroke-width="0.3" fill="#000" >14</text>
<text transform="translate(359.6,237.9) scale(0.93,1)" font-size="7.4" text-anchor="middle" font-family="Liberation Serif" font-weight="bold" stroke="#000" stroke-width="0.3" fill="#000" >17</text>
<text transform="translate(368.8,237.9) scale(0.93,1)" font-size="7.4" text-anchor="middle" font-family="Liberation Serif" font-weight="bold" stroke="#000" stroke-width="0.3" fill="#000" >18</text>
<text transform="translate(382,237.9) scale(0.93,1)" font-size="7.4" text-anchor="middle" font-family="Liberation Serif" font-weight="bold" stroke="#000" stroke-width="0.3" fill="#000" >20</text>
<text transform="translate(392.9,237.9) scale(0.93,1)" font-size="7.4" text-anchor="middle" font-family="Liberation Serif" font-weight="bold" stroke="#000" stroke-width="0.3" fill="#000" >24</text>
<text transform="translate(402.2,237.9) scale(0.93,1)" font-size="7.4" text-anchor="middle" font-family="Liberation Serif" font-weight="bold" stroke="#000" stroke-width="0.3" fill="#000" >26</text>
<rect x="419.45" y="222.5" width="5.6" height="6.199999999999989" fill="#000"/>
<rect x="420.2" y="225.25" width="4.1" height="2.9499999999999886" fill="#fff"/>
<rect x="432.2" y="227.5" width="5.6" height="1.1999999999999886" fill="#000"/>
<rect x="444.95" y="227" width="5.6" height="1.6999999999999886" fill="#000"/>
<rect x="457.45" y="218.3" width="5.6" height="10.399999999999977" fill="#000"/>
<rect x="470.09999999999997" y="222" width="5.6" height="6.699999999999989" fill="#000"/>
<rect x="470.84999999999997" y="226.55" width="4.1" height="1.6499999999999773" fill="#fff"/>
<rect x="482.59999999999997" y="221.5" width="5.6" height="7.199999999999989" fill="#000"/>
<rect x="483.34999999999997" y="226.75" width="4.1" height="1.4499999999999886" fill="#fff"/>
<rect x="495.09999999999997" y="223.3" width="5.6" height="5.399999999999977" fill="#000"/>
<rect x="495.84999999999997" y="226.55" width="4.1" height="1.6499999999999773" fill="#fff"/>
<rect x="507.95" y="224.5" width="5.6" height="4.199999999999989" fill="#000"/>
<rect x="508.7" y="226.05" width="4.1" height="2.1499999999999773" fill="#fff"/>
<line x1="422.5" y1="155" x2="438" y2="155" stroke="#000" stroke-width="1.45" />
<path d="M428.7328,155 L430,153.416 L431.2672,155 L430,156.584 Z" fill="#000" stroke="#000" stroke-width="1.2"/>
<text x="460.3" y="215.5" font-size="7.2" text-anchor="middle" font-family="Liberation Serif" font-weight="bold" stroke="#000" stroke-width="0.3" fill="#000" textLength="10.2" lengthAdjust="spacingAndGlyphs" >DA</text>
<text x="421.3" y="238.1" font-size="7.4" text-anchor="middle" font-family="Liberation Serif" font-weight="bold" stroke="#000" stroke-width="0.3" fill="#000" >1</text>
<text transform="translate(435.8,238.1) scale(0.93,1)" font-size="7.4" text-anchor="middle" font-family="Liberation Serif" font-weight="bold" stroke="#000" stroke-width="0.3" fill="#000" >11</text>
<text transform="translate(447.5,238.1) scale(0.93,1)" font-size="7.4" text-anchor="middle" font-family="Liberation Serif" font-weight="bold" stroke="#000" stroke-width="0.3" fill="#000" >12</text>
<text transform="translate(460.5,238.1) scale(0.93,1)" font-size="7.4" text-anchor="middle" font-family="Liberation Serif" font-weight="bold" stroke="#000" stroke-width="0.3" fill="#000" >18</text>
<text transform="translate(473.8,238.1) scale(0.93,1)" font-size="7.4" text-anchor="middle" font-family="Liberation Serif" font-weight="bold" stroke="#000" stroke-width="0.3" fill="#000" >19</text>
<text transform="translate(486.2,238.1) scale(0.93,1)" font-size="7.4" text-anchor="middle" font-family="Liberation Serif" font-weight="bold" stroke="#000" stroke-width="0.3" fill="#000" >20</text>
<text transform="translate(498,238.1) scale(0.93,1)" font-size="7.4" text-anchor="middle" font-family="Liberation Serif" font-weight="bold" stroke="#000" stroke-width="0.3" fill="#000" >26</text>
<text transform="translate(510.5,238.1) scale(0.93,1)" font-size="7.4" text-anchor="middle" font-family="Liberation Serif" font-weight="bold" stroke="#000" stroke-width="0.3" fill="#000" >33</text>
<rect x="203.70000000000002" y="331.5" width="4.4" height="9.199999999999989" fill="#000"/>
<rect x="204.45000000000002" y="334.75" width="2.9000000000000004" height="5.449999999999989" fill="#fff"/>
<rect x="213.8" y="339.8" width="4.4" height="0.8999999999999773" fill="#000"/>
<rect x="223.8" y="339.6" width="4.4" height="1.099999999999966" fill="#000"/>
<rect x="233.8" y="339.4" width="4.4" height="1.3000000000000114" fill="#000"/>
<rect x="244.05" y="336.3" width="4.4" height="4.399999999999977" fill="#000"/>
<rect x="244.8" y="338.75" width="2.9000000000000004" height="1.4499999999999886" fill="#fff"/>
<rect x="254.3" y="325.3" width="4.4" height="15.399999999999977" fill="#000"/>
<rect x="255.05" y="330.55" width="2.9000000000000004" height="9.649999999999977" fill="#fff"/>
<rect x="264.3" y="329.5" width="4.4" height="11.199999999999989" fill="#000"/>
<rect x="265.05" y="339.05" width="2.9000000000000004" height="1.1499999999999773" fill="#fff"/>
<rect x="274.40000000000003" y="338.3" width="4.4" height="2.3999999999999773" fill="#000"/>
<rect x="284.5" y="339.8" width="4.4" height="0.8999999999999773" fill="#000"/>
<rect x="294.55" y="337" width="4.4" height="3.6999999999999886" fill="#000"/>
<rect x="295.3" y="339.25" width="2.9000000000000004" height="0.9499999999999886" fill="#fff"/>
<line x1="207" y1="266.9" x2="223" y2="266.9" stroke="#000" stroke-width="1.45" />
<rect x="212.85520000000002" y="264.9552" width="3.8896" height="3.8896" fill="#000" stroke="#000" stroke-width="1.2"/>
<text x="244.8" y="332.3" font-size="7.2" text-anchor="middle" font-family="Liberation Serif" font-weight="bold" stroke="#000" stroke-width="0.3" fill="#000" textLength="10.2" lengthAdjust="spacingAndGlyphs" >DA</text>
<text x="192.4" y="350.7" font-size="7.5" text-anchor="middle" font-family="Liberation Serif" font-weight="bold" stroke="#000" stroke-width="0.3" fill="#000" textLength="14.4" lengthAdjust="spacingAndGlyphs" >days</text>
<text x="205.5" y="351.1" font-size="7.4" text-anchor="middle" font-family="Liberation Serif" font-weight="bold" stroke="#000" stroke-width="0.3" fill="#000" >1</text>
<text transform="translate(215.5,351.1) scale(0.93,1)" font-size="7.4" text-anchor="middle" font-family="Liberation Serif" font-weight="bold" stroke="#000" stroke-width="0.3" fill="#000" >10</text>
<text transform="translate(225.8,351.1) scale(0.93,1)" font-size="7.4" text-anchor="middle" font-family="Liberation Serif" font-weight="bold" stroke="#000" stroke-width="0.3" fill="#000" >11</text>
<text transform="translate(237.5,351.1) scale(0.93,1)" font-size="7.4" text-anchor="middle" font-family="Liberation Serif" font-weight="bold" stroke="#000" stroke-width="0.3" fill="#000" >12</text>
<text transform="translate(247,351.1) scale(0.93,1)" font-size="7.4" text-anchor="middle" font-family="Liberation Serif" font-weight="bold" stroke="#000" stroke-width="0.3" fill="#000" >13</text>
<text transform="translate(256.3,351.1) scale(0.93,1)" font-size="7.4" text-anchor="middle" font-family="Liberation Serif" font-weight="bold" stroke="#000" stroke-width="0.3" fill="#000" >17</text>
<text transform="translate(267.5,351.1) scale(0.93,1)" font-size="7.4" text-anchor="middle" font-family="Liberation Serif" font-weight="bold" stroke="#000" stroke-width="0.3" fill="#000" >19</text>
<text transform="translate(277,351.1) scale(0.93,1)" font-size="7.4" text-anchor="middle" font-family="Liberation Serif" font-weight="bold" stroke="#000" stroke-width="0.3" fill="#000" >20</text>
<text transform="translate(286.3,351.1) scale(0.93,1)" font-size="7.4" text-anchor="middle" font-family="Liberation Serif" font-weight="bold" stroke="#000" stroke-width="0.3" fill="#000" >24</text>
<text transform="translate(295.5,351.1) scale(0.93,1)" font-size="7.4" text-anchor="middle" font-family="Liberation Serif" font-weight="bold" stroke="#000" stroke-width="0.3" fill="#000" >31</text>
<rect x="314.20000000000005" y="332" width="5.8" height="8.100000000000023" fill="#000"/>
<rect x="314.95000000000005" y="335.25" width="4.3" height="4.350000000000023" fill="#fff"/>
<rect x="326.70000000000005" y="335.3" width="5.8" height="4.800000000000011" fill="#000"/>
<rect x="339.20000000000005" y="334" width="5.8" height="6.100000000000023" fill="#000"/>
<rect x="351.70000000000005" y="337.5" width="5.8" height="2.6000000000000227" fill="#000"/>
<rect x="364.20000000000005" y="338.5" width="5.8" height="1.6000000000000227" fill="#000"/>
<rect x="376.70000000000005" y="338.3" width="5.8" height="1.8000000000000114" fill="#000"/>
<rect x="377.45000000000005" y="339.25" width="4.3" height="0.35000000000002274" fill="#fff"/>
<rect x="389.20000000000005" y="336.5" width="5.8" height="3.6000000000000227" fill="#000"/>
<rect x="389.95000000000005" y="337.75" width="4.3" height="1.8500000000000227" fill="#fff"/>
<rect x="401.70000000000005" y="334" width="5.8" height="6.100000000000023" fill="#000"/>
<rect x="402.45000000000005" y="336.05" width="4.3" height="3.5500000000000114" fill="#fff"/>
<line x1="314.5" y1="267.5" x2="331.2" y2="267.5" stroke="#000" stroke-width="1.45" />
<path d="M321.064,269.0488 L324.936,269.0488 L323,265.564 Z" fill="#000" stroke="#000" stroke-width="1.2"/>
<text x="342.3" y="329.3" font-size="7.2" text-anchor="middle" font-family="Liberation Serif" font-weight="bold" stroke="#000" stroke-width="0.3" fill="#000" textLength="10.2" lengthAdjust="spacingAndGlyphs" >DA</text>
<text x="318.8" y="351.1" font-size="7.4" text-anchor="middle" font-family="Liberation Serif" font-weight="bold" stroke="#000" stroke-width="0.3" fill="#000" >1</text>
<text transform="translate(330,351.1) scale(0.93,1)" font-size="7.4" text-anchor="middle" font-family="Liberation Serif" font-weight="bold" stroke="#000" stroke-width="0.3" fill="#000" >11</text>
<text transform="translate(343,351.1) scale(0.93,1)" font-size="7.4" text-anchor="middle" font-family="Liberation Serif" font-weight="bold" stroke="#000" stroke-width="0.3" fill="#000" >12</text>
<text transform="translate(355.8,351.1) scale(0.93,1)" font-size="7.4" text-anchor="middle" font-family="Liberation Serif" font-weight="bold" stroke="#000" stroke-width="0.3" fill="#000" >17</text>
<text transform="translate(368.3,351.1) scale(0.93,1)" font-size="7.4" text-anchor="middle" font-family="Liberation Serif" font-weight="bold" stroke="#000" stroke-width="0.3" fill="#000" >19</text>
<text transform="translate(380,351.1) scale(0.93,1)" font-size="7.4" text-anchor="middle" font-family="Liberation Serif" font-weight="bold" stroke="#000" stroke-width="0.3" fill="#000" >20</text>
<text transform="translate(393,351.1) scale(0.93,1)" font-size="7.4" text-anchor="middle" font-family="Liberation Serif" font-weight="bold" stroke="#000" stroke-width="0.3" fill="#000" >24</text>
<text transform="translate(405,351.1) scale(0.93,1)" font-size="7.4" text-anchor="middle" font-family="Liberation Serif" font-weight="bold" stroke="#000" stroke-width="0.3" fill="#000" >31</text>
<rect x="421.3" y="327" width="5.6" height="13.300000000000011" fill="#000"/>
<rect x="422.05" y="331.75" width="4.1" height="8.050000000000011" fill="#fff"/>
<rect x="433.8" y="337" width="5.6" height="3.3000000000000114" fill="#000"/>
<rect x="446.3" y="327.8" width="5.6" height="12.5" fill="#000"/>
<rect x="459.09999999999997" y="329" width="5.6" height="11.300000000000011" fill="#000"/>
<rect x="459.84999999999997" y="336.05" width="4.1" height="3.75" fill="#fff"/>
<rect x="471.59999999999997" y="332" width="5.6" height="8.300000000000011" fill="#000"/>
<rect x="472.34999999999997" y="338.05" width="4.1" height="1.75" fill="#fff"/>
<rect x="484.3" y="331.3" width="5.6" height="9.0" fill="#000"/>
<rect x="485.05" y="337.25" width="4.1" height="2.5500000000000114" fill="#fff"/>
<rect x="496.8" y="328.3" width="5.6" height="12.0" fill="#000"/>
<rect x="497.55" y="334.75" width="4.1" height="5.050000000000011" fill="#fff"/>
<rect x="509.09999999999997" y="331.3" width="5.6" height="9.0" fill="#000"/>
<rect x="509.84999999999997" y="336.05" width="4.1" height="3.75" fill="#fff"/>
<line x1="422" y1="267.5" x2="437.5" y2="267.5" stroke="#000" stroke-width="1.45" />
<path d="M427.74,266.092 L431.26,266.092 L429.5,269.26 Z" fill="#000" stroke="#000" stroke-width="1.2"/>
<text x="463.5" y="325.3" font-size="7.2" text-anchor="middle" font-family="Liberation Serif" font-weight="bold" stroke="#000" stroke-width="0.3" fill="#000" textLength="10.2" lengthAdjust="spacingAndGlyphs" >DA</text>
<text x="425.8" y="351.1" font-size="7.4" text-anchor="middle" font-family="Liberation Serif" font-weight="bold" stroke="#000" stroke-width="0.3" fill="#000" >1</text>
<text transform="translate(437,351.1) scale(0.93,1)" font-size="7.4" text-anchor="middle" font-family="Liberation Serif" font-weight="bold" stroke="#000" stroke-width="0.3" fill="#000" >11</text>
<text transform="translate(450,351.1) scale(0.93,1)" font-size="7.4" text-anchor="middle" font-family="Liberation Serif" font-weight="bold" stroke="#000" stroke-width="0.3" fill="#000" >12</text>
<text transform="translate(463,351.1) scale(0.93,1)" font-size="7.4" text-anchor="middle" font-family="Liberation Serif" font-weight="bold" stroke="#000" stroke-width="0.3" fill="#000" >13</text>
<text transform="translate(475.8,351.1) scale(0.93,1)" font-size="7.4" text-anchor="middle" font-family="Liberation Serif" font-weight="bold" stroke="#000" stroke-width="0.3" fill="#000" >17</text>
<text transform="translate(488.3,351.1) scale(0.93,1)" font-size="7.4" text-anchor="middle" font-family="Liberation Serif" font-weight="bold" stroke="#000" stroke-width="0.3" fill="#000" >19</text>
<text transform="translate(501.3,351.1) scale(0.93,1)" font-size="7.4" text-anchor="middle" font-family="Liberation Serif" font-weight="bold" stroke="#000" stroke-width="0.3" fill="#000" >26</text>
<text transform="translate(512.5,351.1) scale(0.93,1)" font-size="7.4" text-anchor="middle" font-family="Liberation Serif" font-weight="bold" stroke="#000" stroke-width="0.3" fill="#000" >31</text>
</svg>
</body></html>
